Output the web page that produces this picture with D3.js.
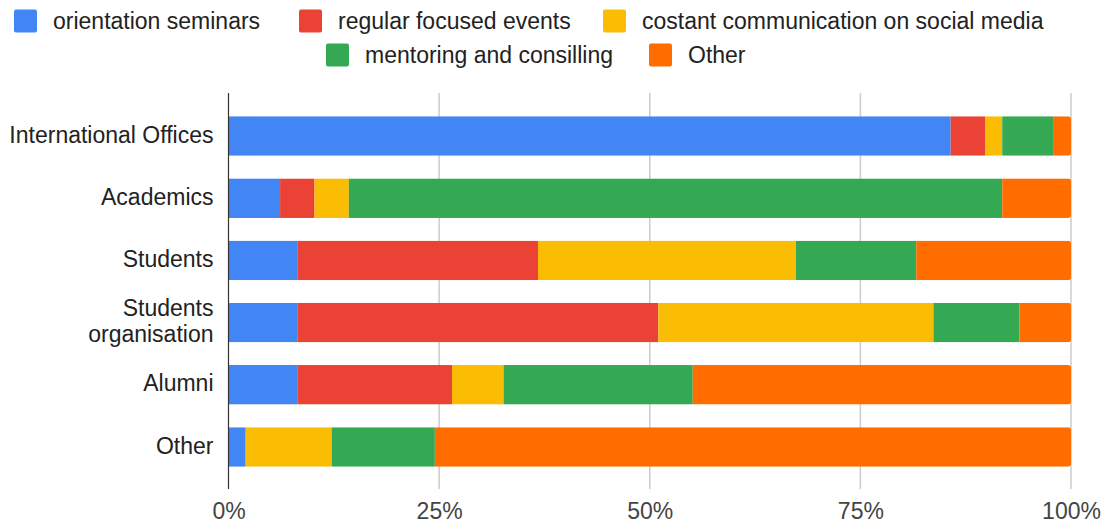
<!DOCTYPE html>
<html>
<head>
<meta charset="utf-8">
<script src="https://cdn.jsdelivr.net/npm/d3@7"></script>
<style>
  html, body { margin: 0; padding: 0; background: #fff; }
  svg { display: block; font-family: "Liberation Sans", Arial, sans-serif; }
</style>
</head>
<body>
<svg id="chart" width="1104" height="524"></svg>
<script>
// Respondent groups (rows) and the number of answers per outreach method
const categories = ["International Offices", "Academics", "Students", "Students organisation", "Alumni", "Other"];
const seriesNames = ["orientation seminars", "regular focused events", "costant communication on social media", "mentoring and consilling", "Other"];
const orientationSeminars = [42, 3, 4, 4, 4, 1];
const regularFocusedEvents = [2, 2, 14, 21, 9, 0];
const costantCommunication = [1, 2, 15, 16, 3, 5];
const mentoringConsilling = [3, 38, 7, 5, 11, 6];
const otherMethod = [1, 4, 9, 3, 22, 37];
const tickValues = [0, 0.25, 0.5, 0.75, 1];
const tickLabels = ["0%", "25%", "50%", "75%", "100%"];
const colors = ["#4285F4", "#EA4335", "#FBBC04", "#34A853", "#FF6D01"];

const seriesValues = [orientationSeminars, regularFocusedEvents, costantCommunication, mentoringConsilling, otherMethod];
const rows = categories.map((c, i) => {
  const r = { category: c };
  seriesNames.forEach((s, k) => { r[s] = seriesValues[k][i]; });
  return r;
});

const stacked = d3.stack()
  .keys(seriesNames)
  .offset(d3.stackOffsetExpand)(rows);

const svg = d3.select("#chart");
const fontSize = 23;

const x = d3.scaleLinear().domain([0, 1]).range([228.5, 1071]);
const y = d3.scaleBand().domain(categories).range([104.9, 478.1])
  .paddingInner(0.365).paddingOuter(0.1825);
const color = d3.scaleOrdinal().domain(seriesNames).range(colors);

const plotTop = 93, plotBottom = 489;

// vertical gridlines
svg.append("g")
  .selectAll("line")
  .data(tickValues.slice(1))
  .join("line")
  .attr("x1", d => x(d)).attr("x2", d => x(d))
  .attr("y1", plotTop).attr("y2", plotBottom)
  .attr("stroke", "#cccccc")
  .attr("stroke-width", 1.5);

// clip each bar to a rounded rectangle spanning its full length
const defs = svg.append("defs");
categories.forEach((c, i) => {
  defs.append("clipPath").attr("id", "bar-clip-" + i)
    .append("rect")
    .attr("x", x(0) - 4)
    .attr("y", y(c))
    .attr("width", x(1) - x(0) + 4)
    .attr("height", y.bandwidth())
    .attr("rx", 3).attr("ry", 3);
});

// stacked segments
const layer = svg.append("g")
  .selectAll("g")
  .data(stacked)
  .join("g")
  .attr("fill", d => color(d.key));

layer.selectAll("rect")
  .data(d => d.map((v, i) => ({ v, i })))
  .join("rect")
  .attr("clip-path", d => "url(#bar-clip-" + d.i + ")")
  .attr("x", d => x(d.v[0]))
  .attr("y", d => y(categories[d.i]))
  .attr("width", d => Math.max(0, x(d.v[1]) - x(d.v[0])))
  .attr("height", y.bandwidth());

// baseline axis line at 0%
svg.append("line")
  .attr("x1", x(0)).attr("x2", x(0))
  .attr("y1", plotTop).attr("y2", plotBottom)
  .attr("stroke", "#333333")
  .attr("stroke-width", 1.2);

// x axis tick labels
const xAxis = d3.axisBottom(x)
  .tickValues(tickValues)
  .tickFormat((d, i) => tickLabels[i])
  .tickSize(0)
  .tickPadding(0);
const xg = svg.append("g").attr("transform", "translate(0," + 502 + ")").call(xAxis);
xg.select(".domain").remove();
xg.selectAll("text")
  .attr("font-size", fontSize)
  .attr("font-family", "\"Liberation Sans\", Arial, sans-serif")
  .attr("fill", "#444444")
  .attr("dy", "0.72em");

// y axis category labels (wrapping the long one onto two lines)
const yAxis = d3.axisLeft(y).tickSize(0).tickPadding(15);
const yg = svg.append("g").attr("transform", "translate(" + x(0) + ",0)").call(yAxis);
yg.select(".domain").remove();
yg.selectAll("text")
  .attr("font-size", fontSize)
  .attr("font-family", "\"Liberation Sans\", Arial, sans-serif")
  .attr("fill", "#222222")
  .each(function (d) {
    const t = d3.select(this);
    const words = d === "Students organisation" ? ["Students", "organisation"] : [d];
    t.text(null).attr("dy", null);
    const lh = 26;
    const startDy = 6.5 - (words.length - 1) * lh / 2;
    words.forEach((w, k) => {
      t.append("tspan")
        .attr("x", -15)
        .attr("dy", k === 0 ? startDy : lh)
        .text(w);
    });
  });

// legend, two centred rows
const legendRows = [[0, 1, 2], [3, 4]];
const legendSwatchX = [[14, 299, 603], [326, 649]];
const legendCenterY = [21, 55];
const sw = 23, gapText = 16;
const legend = svg.append("g");
legendRows.forEach((idxs, r) => {
  idxs.forEach((k, j) => {
    const sx = legendSwatchX[r][j];
    const g = legend.append("g");
    g.append("rect")
      .attr("x", sx).attr("y", legendCenterY[r] - sw / 2)
      .attr("width", sw).attr("height", sw)
      .attr("rx", 2).attr("ry", 2)
      .attr("fill", colors[k]);
    g.append("text")
      .attr("x", sx + sw + gapText)
      .attr("y", legendCenterY[r] + 8)
      .attr("font-size", fontSize)
      .attr("fill", "#222222")
      .text(seriesNames[k]);
  });
});
</script>
</body>
</html>
